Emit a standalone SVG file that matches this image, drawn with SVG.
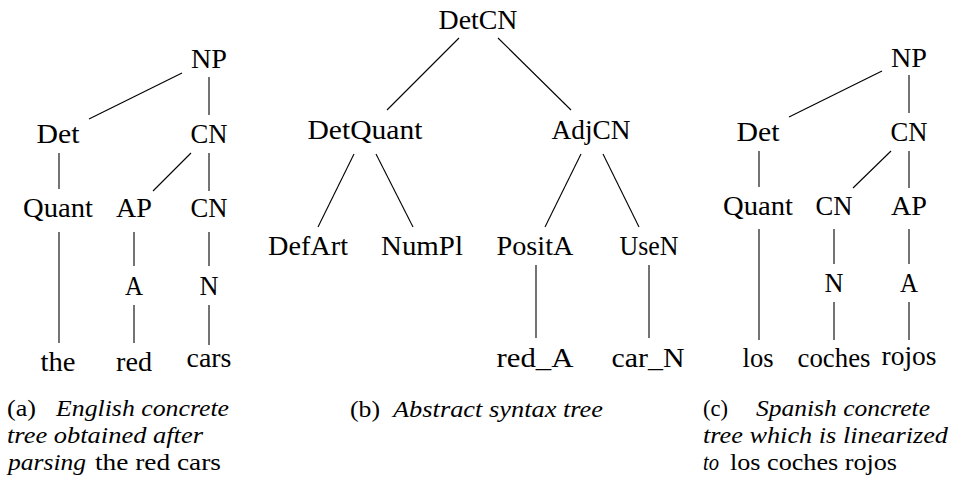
<svg xmlns="http://www.w3.org/2000/svg" width="953" height="478" viewBox="0 0 953 478" font-family="'Liberation Serif', 'DejaVu Serif', 'Times New Roman', serif">
<style>
text{font-family:'Liberation Serif','DejaVu Serif','Times New Roman',serif;font-size:27px;fill:#000}
.n{text-anchor:middle}
.cap{font-size:24px}
.i{font-style:italic}
.e{stroke:#000;stroke-width:1.1;fill:none;stroke-linecap:butt}
</style>
<rect width="953" height="478" fill="#fff"/>
<g id="connectors">
<g id="edges-a">
<line class="e" x1="182" y1="73" x2="89" y2="119"/>
<line class="e" x1="209" y1="77" x2="209" y2="115"/>
<line class="e" x1="59" y1="153" x2="59" y2="189"/>
<line class="e" x1="191" y1="153" x2="153" y2="191"/>
<line class="e" x1="209" y1="153" x2="209" y2="191"/>
<line class="e" x1="59" y1="232" x2="59" y2="343"/>
<line class="e" x1="134" y1="232" x2="134" y2="266"/>
<line class="e" x1="209" y1="232" x2="209" y2="266"/>
<line class="e" x1="134" y1="305" x2="134" y2="343"/>
<line class="e" x1="209" y1="305" x2="209" y2="345"/>
</g>
<g id="edges-b">
<line class="e" x1="459" y1="38" x2="387" y2="110"/>
<line class="e" x1="498" y1="38" x2="571" y2="110"/>
<line class="e" x1="354" y1="154" x2="318" y2="227"/>
<line class="e" x1="376" y1="154" x2="413" y2="227"/>
<line class="e" x1="581" y1="154" x2="545" y2="227"/>
<line class="e" x1="603" y1="154" x2="639" y2="227"/>
<line class="e" x1="536" y1="265" x2="536" y2="338"/>
<line class="e" x1="649" y1="265" x2="649" y2="338"/>
</g>
<g id="edges-c">
<line class="e" x1="882" y1="71" x2="789" y2="117"/>
<line class="e" x1="909" y1="75" x2="909" y2="113"/>
<line class="e" x1="759" y1="151" x2="759" y2="187"/>
<line class="e" x1="891" y1="151" x2="853" y2="188"/>
<line class="e" x1="909" y1="151" x2="909" y2="188"/>
<line class="e" x1="759" y1="229" x2="759" y2="340"/>
<line class="e" x1="834" y1="229" x2="834" y2="264"/>
<line class="e" x1="909" y1="229" x2="909" y2="264"/>
<line class="e" x1="834" y1="302" x2="834" y2="340"/>
<line class="e" x1="909" y1="302" x2="909" y2="340"/>
</g>
</g>
<g id="tree-a">
<g id="a-NP"><text class="n" x="209" y="68" textLength="36" lengthAdjust="spacingAndGlyphs">NP</text></g>
<g id="a-Det"><text class="n" x="58" y="143" textLength="43" lengthAdjust="spacingAndGlyphs">Det</text></g>
<g id="a-CN1"><text class="n" x="209" y="143" textLength="37" lengthAdjust="spacingAndGlyphs">CN</text></g>
<g id="a-Quant"><text class="n" x="58" y="217" textLength="70" lengthAdjust="spacingAndGlyphs">Quant</text></g>
<g id="a-AP"><text class="n" x="134" y="217" textLength="36" lengthAdjust="spacingAndGlyphs">AP</text></g>
<g id="a-CN2"><text class="n" x="209" y="217" textLength="37" lengthAdjust="spacingAndGlyphs">CN</text></g>
<g id="a-A"><text class="n" x="134" y="295" textLength="18" lengthAdjust="spacingAndGlyphs">A</text></g>
<g id="a-N"><text class="n" x="209" y="295" textLength="19" lengthAdjust="spacingAndGlyphs">N</text></g>
<g id="a-the"><text class="n" x="58" y="371" textLength="35" lengthAdjust="spacingAndGlyphs">the</text></g>
<g id="a-red"><text class="n" x="134" y="371" textLength="36" lengthAdjust="spacingAndGlyphs">red</text></g>
<g id="a-cars"><text class="n" x="209" y="367" textLength="45" lengthAdjust="spacingAndGlyphs">cars</text></g>
</g>
<g id="tree-b">
<g id="b-DetCN"><text class="n" x="478" y="29" textLength="79" lengthAdjust="spacingAndGlyphs">DetCN</text></g>
<g id="b-DetQuant"><text class="n" x="365" y="139" textLength="115" lengthAdjust="spacingAndGlyphs">DetQuant</text></g>
<g id="b-AdjCN"><text class="n" x="591" y="139" textLength="79" lengthAdjust="spacingAndGlyphs">AdjCN</text></g>
<g id="b-DefArt"><text class="n" x="308" y="255" textLength="80" lengthAdjust="spacingAndGlyphs">DefArt</text></g>
<g id="b-NumPl"><text class="n" x="422" y="255" textLength="82" lengthAdjust="spacingAndGlyphs">NumPl</text></g>
<g id="b-PositA"><text class="n" x="535" y="255" textLength="77" lengthAdjust="spacingAndGlyphs">PositA</text></g>
<g id="b-UseN"><text class="n" x="649" y="255" textLength="59" lengthAdjust="spacingAndGlyphs">UseN</text></g>
<g id="b-red_A"><text class="n" x="535" y="367" textLength="77" lengthAdjust="spacingAndGlyphs">red_A</text></g>
<g id="b-car_N"><text class="n" x="648" y="367" textLength="73" lengthAdjust="spacingAndGlyphs">car_N</text></g>
</g>
<g id="tree-c">
<g id="c-NP"><text class="n" x="909" y="67" textLength="36" lengthAdjust="spacingAndGlyphs">NP</text></g>
<g id="c-Det"><text class="n" x="758" y="141" textLength="43" lengthAdjust="spacingAndGlyphs">Det</text></g>
<g id="c-CN1"><text class="n" x="909" y="141" textLength="37" lengthAdjust="spacingAndGlyphs">CN</text></g>
<g id="c-Quant"><text class="n" x="758" y="215" textLength="70" lengthAdjust="spacingAndGlyphs">Quant</text></g>
<g id="c-CN2"><text class="n" x="834" y="215" textLength="37" lengthAdjust="spacingAndGlyphs">CN</text></g>
<g id="c-AP"><text class="n" x="909" y="215" textLength="36" lengthAdjust="spacingAndGlyphs">AP</text></g>
<g id="c-N"><text class="n" x="834" y="292" textLength="19" lengthAdjust="spacingAndGlyphs">N</text></g>
<g id="c-A"><text class="n" x="909" y="292" textLength="18" lengthAdjust="spacingAndGlyphs">A</text></g>
<g id="c-los"><text class="n" x="758" y="367" textLength="31" lengthAdjust="spacingAndGlyphs">los</text></g>
<g id="c-coches"><text class="n" x="834" y="367" textLength="73" lengthAdjust="spacingAndGlyphs">coches</text></g>
<g id="c-rojos"><text class="n" x="909" y="365" textLength="55" lengthAdjust="spacingAndGlyphs">rojos</text></g>
</g>
<g id="caption-a">
<text class="cap" x="7" y="416" textLength="29" lengthAdjust="spacingAndGlyphs">(a)</text>
<text class="cap i" x="56" y="416" textLength="173" lengthAdjust="spacingAndGlyphs">English concrete</text>
<text class="cap i" x="7" y="443" textLength="196" lengthAdjust="spacingAndGlyphs">tree obtained after</text>
<text class="cap i" x="8" y="470" textLength="78" lengthAdjust="spacingAndGlyphs">parsing</text>
<text class="cap" x="95" y="470" textLength="126" lengthAdjust="spacingAndGlyphs">the red cars</text>
</g>
<g id="caption-b">
<text class="cap" x="350" y="417" textLength="30" lengthAdjust="spacingAndGlyphs">(b)</text>
<text class="cap i" x="393" y="417" textLength="210" lengthAdjust="spacingAndGlyphs">Abstract syntax tree</text>
</g>
<g id="caption-c">
<text class="cap" x="703" y="416" textLength="25" lengthAdjust="spacingAndGlyphs">(c)</text>
<text class="cap i" x="756" y="416" textLength="174" lengthAdjust="spacingAndGlyphs">Spanish concrete</text>
<text class="cap i" x="703" y="443" textLength="245" lengthAdjust="spacingAndGlyphs">tree which is linearized</text>
<text class="cap i" x="703" y="470" textLength="16" lengthAdjust="spacingAndGlyphs">to</text>
<text class="cap" x="730" y="470" textLength="167" lengthAdjust="spacingAndGlyphs">los coches rojos</text>
</g>
</svg>
